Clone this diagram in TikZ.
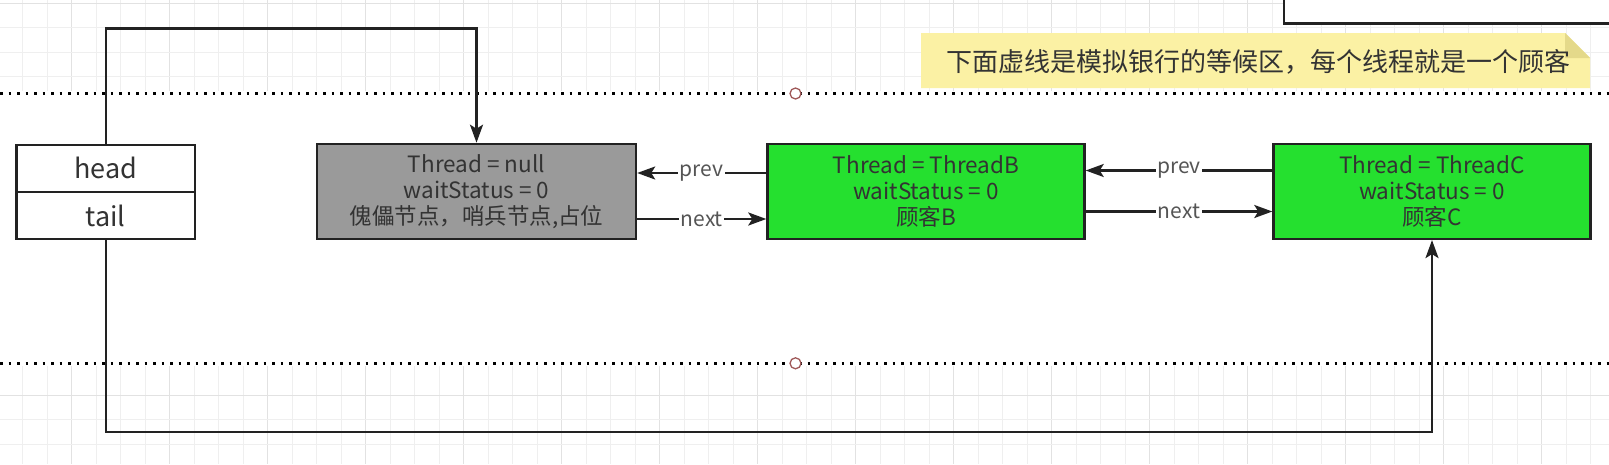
\documentclass[tikz,border=0pt]{standalone}
\usepackage{fontspec}
\setmainfont{Noto Sans CJK SC}
\usetikzlibrary{arrows.meta}
\definecolor{ink}{HTML}{333333}
\definecolor{lblink}{HTML}{555555}
\definecolor{edge}{HTML}{222222}
\definecolor{gridminor}{HTML}{EFEFEF}
\definecolor{gridmajor}{HTML}{E2E2E2}
\definecolor{grayfill}{HTML}{9A9A9A}
\definecolor{greenfill}{HTML}{25E02F}
\definecolor{noteyellow}{HTML}{FBF1A4}
\definecolor{notefold}{HTML}{E4D98A}
\definecolor{circred}{HTML}{A05A5A}
\tikzset{
  qbox/.style={draw=edge, line width=2.4pt, minimum width=317pt, minimum height=95pt,
    inner sep=0pt, align=center, text=ink, font=\fontsize{22.5}{26}\selectfont},
  cellbox/.style={draw=edge, line width=2.4pt, fill=white, minimum width=178.6pt,
    minimum height=47.2pt, inner sep=0pt, text=ink, font=\fontsize{27}{30}\selectfont},
  conn/.style={draw=edge, line width=2.4pt, -{Stealth[length=18pt,width=13pt,inset=4pt]}},
  lbl/.style={fill=white, inner sep=1.5pt, text=lblink, font=\fontsize{21}{24}\selectfont},
  dotline/.style={draw=black, line width=2.6pt, dash pattern=on 2.6pt off 5.9pt},
  marker/.style={circle, draw=circred, fill=white, line width=1.3pt, minimum size=11pt, inner sep=0pt},
}
\begin{document}
\begin{tikzpicture}[x=1pt,y=-1pt]
\useasboundingbox (0,0) rectangle (1609,464);
\clip (0,0) rectangle (1609,464);
\fill[white] (0,0) rectangle (1609,464);
% grid (top band and bottom band)
\foreach \k in {0,...,65}{
  \pgfmathsetmacro{\gx}{22.7+24.5*\k}
  \pgfmathtruncatemacro{\m}{mod(\k+2,4)}
  \ifnum\m=0
    \draw[gridmajor, line width=1.2pt] (\gx,0) -- (\gx,91);
    \draw[gridmajor, line width=1.2pt] (\gx,366) -- (\gx,464);
  \else
    \draw[gridminor, line width=1pt] (\gx,0) -- (\gx,91);
    \draw[gridminor, line width=1pt] (\gx,366) -- (\gx,464);
  \fi
}
\foreach \gy in {27.8,52.3,76.8,419.8,444.3}{
  \draw[gridminor, line width=1pt] (0,\gy) -- (1609,\gy);
}
\foreach \gy in {3.3,395.3}{
  \draw[gridmajor, line width=1.2pt] (0,\gy) -- (1609,\gy);
}
% top-right box (partly outside)
\draw[edge, line width=2.4pt, fill=white] (1284,-6) rectangle (1620,23.5);
% note
\fill[noteyellow] (921,33) -- (1565,33) -- (1590,58) -- (1590,88) -- (921,88) -- cycle;
\fill[notefold] (1565,33) -- (1565,58) -- (1590,58) -- cycle;
\node[text=ink, font=\fontsize{26}{30}\selectfont, inner sep=0pt] (note) at (1258,61.5)
  {下面虚线是模拟银行的等候区，每个线程就是一个顾客};
% dotted lines
\draw[dotline] (0,93.5) -- (1609,93.5);
\draw[dotline] (0,363.3) -- (1609,363.3);
\node[marker] (m1) at (795.5,93.5) {};
\node[marker] (m2) at (795.5,363.3) {};
% head / tail
\node[cellbox] (hd) at (105.7,168.3) {head};
\node[cellbox] (tl) at (105.7,215.5) {tail};
% queue nodes
\node[qbox, fill=grayfill, minimum width=319pt] (A) at (476.5,191.4)
  {Thread = null\\waitStatus = 0\\傀儡节点，哨兵节点,占位};
\node[qbox, fill=greenfill] (B) at (926,191.4)
  {Thread = ThreadB\\waitStatus = 0\\顾客B};
\node[qbox, fill=greenfill] (C) at (1432,191.4)
  {Thread = ThreadC\\waitStatus = 0\\顾客C};
% helper coordinates
\coordinate (ytop) at (0,28.3);
\coordinate (ybot) at (0,432);
\coordinate (yp1) at (0,173);
\coordinate (yn1) at (0,219);
\coordinate (yp2) at (0,170.5);
\coordinate (yn2) at (0,211.5);
% head -> A, tail -> C
\draw[conn] (hd.north) -- (hd.north |- ytop) -| (A.north);
\draw[conn] (tl.south) -- (tl.south |- ybot) -| (C.south);
% prev / next
\draw[conn] (B.west |- yp1) -- node[lbl] {prev} (A.east |- yp1);
\draw[conn] (A.east |- yn1) -- node[lbl] {next} (B.west |- yn1);
\draw[conn] (C.west |- yp2) -- node[lbl] {prev} (B.east |- yp2);
\draw[conn] (B.east |- yn2) -- node[lbl] {next} (C.west |- yn2);
\end{tikzpicture}
\end{document}
